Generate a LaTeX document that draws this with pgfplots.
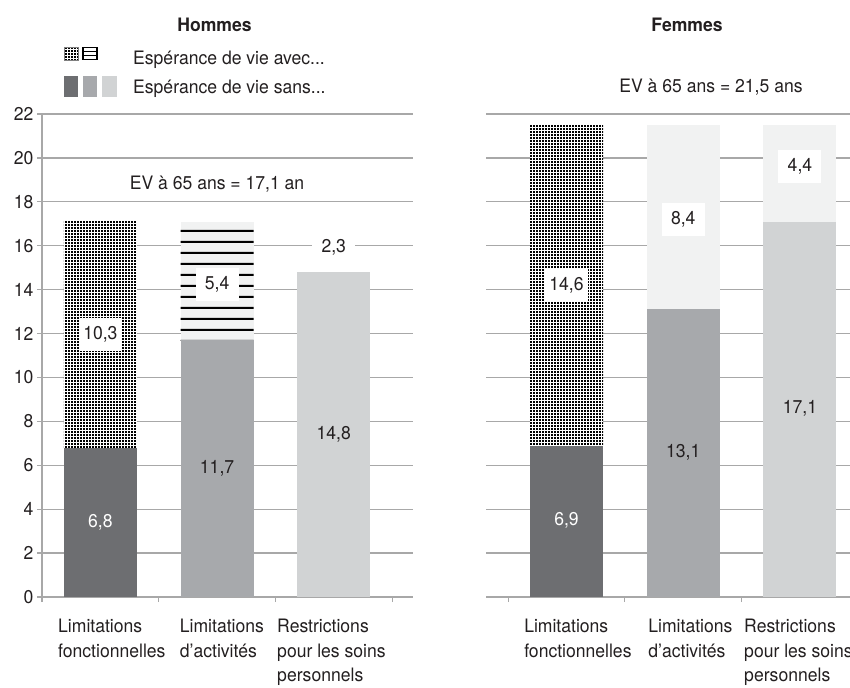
\documentclass[border=0pt]{standalone}
\usepackage{fontspec}
\setmainfont{TeX Gyre Heros}[FakeStretch=0.95]
\usepackage{pgfplots}
\pgfplotsset{compat=1.18}
\usetikzlibrary{patterns}

\definecolor{sansA}{HTML}{6D6E71}
\definecolor{sansB}{HTML}{A7A9AC}
\definecolor{sansC}{HTML}{D1D3D4}
\definecolor{avecC}{HTML}{F1F2F2}
\definecolor{gridc}{HTML}{A8A8A8}
\definecolor{txt}{HTML}{231F20}

% fine square dots and thick horizontal rules for the "avec" segments
\pgfdeclarepatternformonly{densedots}{\pgfpoint{-1.5pt}{-1.5pt}}{\pgfpoint{1.5pt}{1.5pt}}{\pgfpoint{3pt}{3pt}}{%
  \pgfpathrectangle{\pgfpoint{-0.52pt}{-0.52pt}}{\pgfpoint{1.04pt}{1.04pt}}\pgfusepath{fill}}
\pgfdeclarepatternformonly{hrules}{\pgfpoint{0pt}{0pt}}{\pgfpoint{1000pt}{11pt}}{\pgfpoint{1000pt}{11pt}}{%
  \pgfpathrectangle{\pgfpoint{0pt}{4.5pt}}{\pgfpoint{1000pt}{2.2pt}}\pgfusepath{fill}}

\newcommand\fs{\fontsize{18.5}{24.5}\selectfont}

\pgfplotsset{
  panel/.style={
    scale only axis, height=483pt,
    ymin=0, ymax=22, ytick={0,2,...,22},
    ybar stacked, bar width=73pt,
    ymajorgrids, grid style={gridc, line width=1.2pt},
    axis x line=bottom, axis y line=left,
    x axis line style={-, gridc, line width=1.2pt},
    tick align=outside, major tick length=5pt,
    xtick={-0.5,0.5,1.5,2.5}, xticklabels={},
    xtick style={gridc, line width=1.2pt},
    extra x tick style={major tick length=0pt,
      xticklabel style={anchor=north west, align=left, inner sep=0pt, yshift=-22pt}},
    /pgf/number format/assume math mode=true,
    tick label style={text=txt},
    clip=false,
  },
}
\tikzset{
  boxlab/.style={fill=white, minimum width=43pt, minimum height=33pt, inner sep=0pt, text=txt},
  lab/.style={text=txt},
  wlab/.style={text=white},
}

\begin{document}
\begin{tikzpicture}[font=\fs]
\useasboundingbox (0pt,0pt) rectangle (850pt,-687pt);

% titles
\node[anchor=base, font=\fs\bfseries, text=txt] at (214.5pt,-31.7pt) {Hommes};
\node[anchor=base, font=\fs\bfseries, text=txt] at (687pt,-31.7pt) {Femmes};

% key
\fill[white] (64pt,-47pt) rectangle (78pt,-60pt);
\fill[pattern=densedots] (64pt,-47pt) rectangle (78pt,-60pt);
\draw[gray, line width=0.6pt] (64pt,-47pt) rectangle (78pt,-60pt);
\draw[black, line width=1.5pt] (83pt,-47.5pt) rectangle (97pt,-59.5pt);
\draw[black, line width=1.5pt] (83pt,-51.5pt) -- (97pt,-51.5pt) (83pt,-55.5pt) -- (97pt,-55.5pt);
\fill[sansA] (64pt,-76pt) rectangle (78pt,-97pt);
\fill[sansB] (83pt,-76pt) rectangle (97pt,-97pt);
\fill[sansC] (102pt,-76pt) rectangle (117pt,-97pt);
\node[anchor=base west, inner sep=0pt, text=txt] at (133pt,-65pt) {Espérance de vie avec...};
\node[anchor=base west, inner sep=0pt, text=txt] at (133pt,-93.3pt) {Espérance de vie sans...};

% men
\begin{axis}[panel,
  at={(42pt,-597pt)}, anchor=south west, width=371pt,
  xmin=-0.5, xmax=2.679,
  y axis line style={-, gridc, line width=1.2pt},
  ytick style={gridc, line width=1.2pt},
  extra x ticks={-0.363,0.68,1.514},
  extra x tick labels={{Limitations\\fonctionnelles},{Limitations\\d'activités},{Restrictions\\pour les soins\\personnels}},
]
\addplot[fill=sansA, draw=none] coordinates {(0,6.8) (1,0) (2,0)};
\addplot[fill=sansB, draw=none] coordinates {(0,0) (1,11.7) (2,0)};
\addplot[fill=sansC, draw=none] coordinates {(0,0) (1,0) (2,14.8)};
\addplot[fill=white, draw=none, postaction={pattern=densedots}] coordinates {(0,10.3) (1,0) (2,0)};
\addplot[fill=avecC, draw=none, postaction={pattern=hrules}] coordinates {(0,0) (1,5.4) (2,0)};
\addplot[fill=none, draw=none] coordinates {(0,0) (1,0) (2,2.3)};

\coordinate (h1s) at (axis cs:0,3.4);
\coordinate (h1a) at (axis cs:0,11.95);
\coordinate (h2s) at (axis cs:1,5.85);
\coordinate (h2a) at (axis cs:1,14.25);
\coordinate (h3s) at (axis cs:2,7.4);
\coordinate (h3a) at (axis cs:2,15.95);
\coordinate (hev) at (axis cs:1,18.8);
\end{axis}

% women
\begin{axis}[panel,
  at={(486pt,-597pt)}, anchor=south west, width=364pt,
  xmin=-0.69, xmax=2.429,
  y axis line style={draw=none},
  ytick style={draw=none}, yticklabels={},
  extra x ticks={-0.364,0.7,1.521},
  extra x tick labels={{Limitations\\fonctionnelles},{Limitations\\d'activités},{Restrictions\\pour les soins\\personnels}},
]
\addplot[fill=sansA, draw=none] coordinates {(0,6.9) (1,0) (2,0)};
\addplot[fill=sansB, draw=none] coordinates {(0,0) (1,13.1) (2,0)};
\addplot[fill=sansC, draw=none] coordinates {(0,0) (1,0) (2,17.1)};
\addplot[fill=white, draw=none, postaction={pattern=densedots}] coordinates {(0,14.6) (1,0) (2,0)};
\addplot[fill=avecC, draw=none] coordinates {(0,0) (1,8.4) (2,0)};
\addplot[fill=avecC, draw=none] coordinates {(0,0) (1,0) (2,4.4)};

\coordinate (f1s) at (axis cs:0,3.5);
\coordinate (f1a) at (axis cs:0,14.2);
\coordinate (f2s) at (axis cs:1,6.6);
\coordinate (f2a) at (axis cs:1,17.2);
\coordinate (f3s) at (axis cs:2,8.6);
\coordinate (f3a) at (axis cs:2,19.6);
\end{axis}

% segment values
\node[wlab] at (h1s) {6,8};
\node[boxlab] at (h1a) {10,3};
\node[lab] at (h2s) {11,7};
\node[boxlab] at (h2a) {5,4};
\node[lab] at (h3s) {14,8};
\node[boxlab] at (h3a) {2,3};
\node[lab] at (hev) {EV à 65 ans = 17,1 an};

\node[wlab] at (f1s) {6,9};
\node[boxlab] at (f1a) {14,6};
\node[lab] at (f2s) {13,1};
\node[boxlab] at (f2a) {8,4};
\node[lab] at (f3s) {17,1};
\node[boxlab] at (f3a) {4,4};

\node[anchor=base, text=txt] at (711pt,-92.7pt) {EV à 65 ans = 21,5 ans};
\end{tikzpicture}
\end{document}
